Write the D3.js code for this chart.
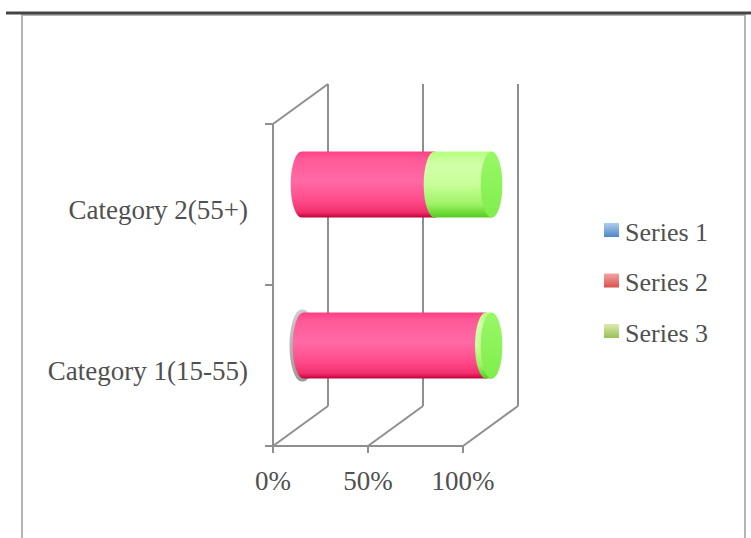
<!DOCTYPE html>
<html><head><meta charset="utf-8">
<script src="https://cdn.jsdelivr.net/npm/d3@7"></script>
<style>html,body{margin:0;padding:0;background:#fff;}svg{display:block;}</style>
</head><body>
<script>
const categories = ["Category 1(15-55)", "Category 2(55+)"];
const seriesNames = ["Series 1", "Series 2", "Series 3"];
const series1 = [1, 0];
const series2 = [96, 70];
const series3 = [3, 30];
const tickValues = [0, 50, 100];
const tickLabels = ["0%", "50%", "100%"];

const W = 751, H = 538;
const svg = d3.select("body").append("svg").attr("width", W).attr("height", H);
const defs = svg.append("defs");

// frame
svg.append("rect").attr("x", 22).attr("y", 15).attr("width", 723).attr("height", 540)
  .attr("fill", "none").attr("stroke", "#b4b4b4").attr("stroke-width", 2);
svg.append("line").attr("x1", 6).attr("x2", 751).attr("y1", 13).attr("y2", 13)
  .attr("stroke", "#444").attr("stroke-width", 3);

const front = {x0: 273, x1: 463, y0: 124, y1: 446};
const depth = {dx: 55, dy: -40};
const x = d3.scaleLinear().domain([0, 100]).range([front.x0, front.x1]);
const y = d3.scaleBand().domain(categories.slice().reverse()).range([front.y0, front.y1]);

const axisColor = "#8f8f8f";
const g = svg.append("g").attr("stroke", axisColor).attr("stroke-width", 2).attr("fill", "none");
// back wall gridlines
tickValues.forEach(v => {
  g.append("line").attr("x1", x(v) + depth.dx).attr("x2", x(v) + depth.dx)
    .attr("y1", front.y1 + depth.dy).attr("y2", front.y0 + depth.dy);
  g.append("line").attr("x1", x(v)).attr("x2", x(v) + depth.dx)
    .attr("y1", front.y1).attr("y2", front.y1 + depth.dy);
  g.append("line").attr("x1", x(v)).attr("x2", x(v)).attr("y1", front.y1).attr("y2", front.y1 + 7);
});
// left wall
g.append("line").attr("x1", front.x0).attr("x2", front.x0).attr("y1", front.y1).attr("y2", front.y0);
g.append("line").attr("x1", front.x0).attr("x2", front.x0 + depth.dx).attr("y1", front.y0).attr("y2", front.y0 + depth.dy);
// floor front
g.append("line").attr("x1", front.x0 - 8).attr("x2", front.x1).attr("y1", front.y1).attr("y2", front.y1);
// left ticks
[front.y0, front.y0 + y.bandwidth(), front.y1].forEach(ty => {
  g.append("line").attr("x1", front.x0 - 8).attr("x2", front.x0).attr("y1", ty).attr("y2", ty);
});

const font = "'Liberation Serif', 'Times New Roman', serif";
const textColor = "#505050";
// tick labels
svg.append("g").selectAll("text").data(tickValues).join("text")
  .attr("x", d => x(d)).attr("y", 490).attr("text-anchor", "middle")
  .attr("font-family", font).attr("font-size", 27).attr("fill", textColor)
  .text((d, i) => tickLabels[i]);
// category labels
svg.append("g").selectAll("text").data(categories).join("text")
  .attr("x", 248).attr("y", d => y(d) + y.bandwidth() / 2 + 14).attr("text-anchor", "end")
  .attr("font-family", font).attr("font-size", 27).attr("fill", textColor)
  .text(d => d);

// gradients
function vgrad(id, stops) {
  const lg = defs.append("linearGradient").attr("id", id).attr("x1", 0).attr("x2", 0).attr("y1", 0).attr("y2", 1);
  stops.forEach(s => lg.append("stop").attr("offset", s[0]).attr("stop-color", s[1]));
}
vgrad("gGray", [[0, "#c4c4c4"], [0.5, "#a9a9a9"], [1, "#8a8a8a"]]);
vgrad("gPink", [[0, "#ff3f82"], [0.12, "#ff5a98"], [0.45, "#ff6aa5"], [0.75, "#ff4a8a"], [0.92, "#f22f6c"], [1, "#c2003c"]]);
vgrad("gGreen", [[0, "#b5ff7e"], [0.2, "#d2ffaa"], [0.5, "#c9ff9a"], [0.8, "#9cf263"], [1, "#55cc22"]]);
vgrad("capGreen", [[0, "#98f866"], [1, "#80ee4c"]]);
vgrad("capPink", [[0, "#ff7ab0"], [1, "#ff4f8e"]]);
vgrad("capGray", [[0, "#c8c8c8"], [1, "#a0a0a0"]]);
const bodyFill = ["url(#gGray)", "url(#gPink)", "url(#gGreen)"];
const capFill = ["url(#capGray)", "url(#capPink)", "url(#capGreen)"];

// bars (cylinders in mid-depth plane)
const mid = {dx: depth.dx / 2 + 1, dy: depth.dy / 2};
const ry = 33, rx = 10.8;
const seriesData = [series1, series2, series3];
const bars = svg.append("g");
categories.forEach((cat, ci) => {
  const cy = y(cat) + y.bandwidth() / 2 + mid.dy;
  let acc = 0;
  let lastEnd = null, lastIdx = -1;
  seriesData.forEach((vals, si) => {
    const v = vals[ci];
    if (v <= 0) { return; }
    const xa = x(acc) + mid.dx, xb = x(acc + v) + mid.dx;
    const extra = si === 0 ? 3 : 0;
    const r = ry + extra, rxx = rx + extra * 0.4;
    const p = `M${xa},${cy - r} L${xb},${cy - r} A${rxx},${r} 0 0 1 ${xb},${cy + r} L${xa},${cy + r} A${rxx},${r} 0 0 1 ${xa},${cy - r} Z`;
    bars.append("path").attr("d", p).attr("fill", bodyFill[si])
      .attr("opacity", si === 0 ? 0.85 : 1);
    acc += v;
    lastEnd = xb; lastIdx = si;
  });
  if (lastEnd !== null) {
    bars.append("ellipse").attr("cx", lastEnd).attr("cy", cy).attr("rx", rx).attr("ry", ry)
      .attr("fill", capFill[lastIdx]);
  }
});

// legend
const legendColors = [["#b0cdef", "#4f86c6"], ["#f4a3a3", "#d9524f"], ["#dcebb2", "#9bc053"]];
legendColors.forEach((c, i) => {
  const id = "leg" + i;
  vgrad(id, [[0, c[0]], [1, c[1]]]);
});
const leg = svg.append("g").selectAll("g").data(seriesNames).join("g")
  .attr("transform", (d, i) => `translate(604, ${223 + i * 50.5})`);
leg.append("rect").attr("width", 15).attr("height", 14).attr("fill", (d, i) => `url(#leg${i})`);
leg.append("text").attr("x", 21).attr("y", 17.5)
  .attr("font-family", font).attr("font-size", 26).attr("fill", textColor).text(d => d);
</script>
</body></html>
